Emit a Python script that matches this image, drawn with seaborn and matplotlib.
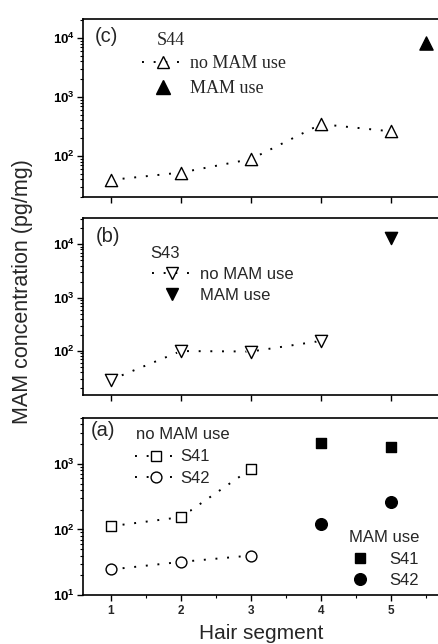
import numpy as np
import pandas as pd
import matplotlib
matplotlib.use("Agg")
import matplotlib.pyplot as plt
import seaborn as sns
from matplotlib.lines import Line2D
from matplotlib.ticker import LogLocator, FixedLocator, FuncFormatter, NullFormatter, MultipleLocator

# ---------------- data ----------------
segments = [1, 2, 3, 4, 5]
tick_labels = ["1", "2", "3", "4", "5"]

# (c) S44
s44_no_x = [1, 2, 3, 4, 5]
s44_no = [39, 52, 88, 345, 260]
s44_use_x = [5.5]
s44_use = [8300]

# (b) S43
s43_no_x = [1, 2, 3, 4]
s43_no = [29, 100, 98, 155]
s43_use_x = [5]
s43_use = [13000]

# (a) S41 / S42
s41_no_x = [1, 2, 3]
s41_no = [112, 154, 840]
s42_no_x = [1, 2, 3]
s42_no = [24.5, 32, 40]
s41_use_x = [4, 5]
s41_use = [2100, 1800]
s42_use_x = [4, 5]
s42_use = [122, 260]

# ---------------- style ----------------
sns.set_style("ticks")
plt.rcParams["font.family"] = ["Liberation Sans", "DejaVu Sans"]
plt.rcParams["mathtext.fontset"] = "custom"
plt.rcParams["mathtext.rm"] = "Liberation Sans"
plt.rcParams["mathtext.bf"] = "Liberation Sans:bold"
plt.rcParams["mathtext.it"] = "Liberation Sans:italic"

DOT = (0, (1, 5))
LW = 1.4

fig = plt.figure(figsize=(4.38, 6.44), dpi=100)
L = 83 / 438
W = 1 - L
ax_c = fig.add_axes([L, 0.6941, W, 0.2764])
ax_b = fig.add_axes([L, 0.3866, W, 0.2748])
ax_a = fig.add_axes([L, 0.0761, W, 0.2748])


def fmt(v, p):
    return r"$\mathbf{10^{%d}}$" % int(round(np.log10(v)))


def style(ax, ylim, labels):
    ax.set_yscale("log")
    ax.set_xlim(0.6, 5.67)
    ax.set_ylim(*ylim)
    ax.spines["right"].set_visible(False)
    for s in ["left", "top", "bottom"]:
        ax.spines[s].set_linewidth(1.2)
        ax.spines[s].set_color("black")
    ax.yaxis.set_major_locator(LogLocator(base=10, numticks=10))
    ax.yaxis.set_minor_locator(LogLocator(base=10, subs=np.arange(2, 10), numticks=10))
    ax.yaxis.set_major_formatter(FuncFormatter(fmt))
    ax.yaxis.set_minor_formatter(NullFormatter())
    ax.xaxis.set_major_locator(FixedLocator(segments))
    ax.tick_params(which="major", direction="out", length=4, width=1.0, color="black")
    ax.tick_params(which="minor", direction="out", length=2.3, width=0.8, color="black")
    ax.tick_params(axis="y", labelsize=9.5, pad=2, labelcolor="black")
    ax.tick_params(axis="y", which="minor", left=True)
    ax.tick_params(axis="x", labelbottom=labels, pad=3)
    ax.set_xlabel("")
    ax.set_ylabel("")
    ax.set_facecolor("white")


def dotted(ax, x, y):
    df = pd.DataFrame({"seg": x, "conc": y})
    sns.lineplot(data=df, x="seg", y="conc", ax=ax, color="black", lw=LW,
                 linestyle=DOT, zorder=2)


def pts(ax, x, y, marker, ms, filled, halo=True):
    df = pd.DataFrame({"seg": x, "conc": y})
    if halo and not filled:
        sns.scatterplot(data=df, x="seg", y="conc", ax=ax, marker=marker,
                        s=(ms + 5) ** 2, color="white", edgecolor="none",
                        linewidth=0, zorder=3)
    sns.scatterplot(data=df, x="seg", y="conc", ax=ax, marker=marker, s=ms ** 2,
                    color="black" if filled else "white", edgecolor="black",
                    linewidth=1.0, zorder=4)


# ---------------- panel (c) ----------------
dotted(ax_c, s44_no_x, s44_no)
pts(ax_c, s44_no_x, s44_no, "^", 8.8, False)
pts(ax_c, s44_use_x, s44_use, "^", 9.5, True)
style(ax_c, (20, 21000), False)
ax_c.text(0.034, 0.90, "(c)", transform=ax_c.transAxes, fontsize=14.5,
          va="center", ha="left")
ax_c.text(0.208, 0.854, "S44", transform=ax_c.transAxes, fontsize=13,
          family="Liberation Serif", va="baseline", ha="left")
h1 = Line2D([], [], color="black", lw=LW, linestyle=DOT, marker="^", ms=8.8,
            mfc="white", mec="black", mew=1.0)
h2 = Line2D([], [], linestyle="none", marker="^", ms=9.5, color="black")
ax_c.legend([h1, h2], ["no MAM use", "MAM use"], loc="center left",
            bbox_to_anchor=(0.166, 0.678), frameon=False, borderpad=0,
            borderaxespad=0, handlelength=2.3, handletextpad=0.39,
            labelspacing=0.45, numpoints=1,
            prop={"family": "Liberation Serif", "size": 13})

# ---------------- panel (b) ----------------
dotted(ax_b, s43_no_x, s43_no)
pts(ax_b, s43_no_x, s43_no, "v", 8.8, False)
pts(ax_b, s43_use_x, s43_use, "v", 8.8, True)
style(ax_b, (15, 31000), False)
ax_b.text(0.0366, 0.894, "(b)", transform=ax_b.transAxes, fontsize=14.5,
          va="center", ha="left")
ax_b.text(0.189, 0.776, "S43", transform=ax_b.transAxes, fontsize=12,
          va="baseline", ha="left")
h1 = Line2D([], [], color="black", lw=LW, linestyle=DOT, marker="v", ms=8.8,
            mfc="white", mec="black", mew=1.0)
h2 = Line2D([], [], linestyle="none", marker="v", ms=8.8, color="black")
ax_b.legend([h1, h2], ["no MAM use", "MAM use"], loc="center left",
            bbox_to_anchor=(0.194, 0.622), frameon=False, borderpad=0,
            borderaxespad=0, handlelength=2.4, handletextpad=0.5,
            labelspacing=0.38, numpoints=1, prop={"size": 12})

# ---------------- panel (a) ----------------
dotted(ax_a, s41_no_x, s41_no)
dotted(ax_a, s42_no_x, s42_no)
pts(ax_a, s41_no_x, s41_no, "s", 7.4, False)
pts(ax_a, s42_no_x, s42_no, "o", 7.8, False)
pts(ax_a, s41_use_x, s41_use, "s", 7.4, True)
pts(ax_a, s42_use_x, s42_use, "o", 8.4, True)
style(ax_a, (10, 5000), True)
ax_a.xaxis.set_minor_locator(MultipleLocator(0.5))
ax_a.set_xticks(segments)
ax_a.set_xticklabels(tick_labels, fontsize=8.5, fontweight="bold")
ax_a.text(0.0217, 0.932, "(a)", transform=ax_a.transAxes, fontsize=14.5,
          va="center", ha="left")
ax_a.text(0.149, 0.880, "no MAM use", transform=ax_a.transAxes, fontsize=12,
          va="baseline", ha="left")
ax_a.text(0.749, 0.301, "MAM use", transform=ax_a.transAxes, fontsize=12,
          va="baseline", ha="left")
hs = Line2D([], [], color="black", lw=LW, linestyle=DOT, marker="s", ms=7.4,
            mfc="white", mec="black", mew=1.0)
hc = Line2D([], [], color="black", lw=LW, linestyle=DOT, marker="o", ms=7.8,
            mfc="white", mec="black", mew=1.0)
leg1 = ax_a.legend([hs, hc], ["S41", "S42"], loc="center left",
                   bbox_to_anchor=(0.146, 0.720), frameon=False, borderpad=0,
                   borderaxespad=0, handlelength=2.5, handletextpad=0.2,
                   labelspacing=0.38, numpoints=1, prop={"size": 12})
ax_a.add_artist(leg1)
fs = Line2D([], [], linestyle="none", marker="s", ms=7.4, color="black")
fc = Line2D([], [], linestyle="none", marker="o", ms=8.4, color="black")
ax_a.legend([fs, fc], ["S41", "S42"], loc="center left",
            bbox_to_anchor=(0.721, 0.142), frameon=False, borderpad=0,
            borderaxespad=0, handlelength=2.5, handletextpad=0.49,
            labelspacing=0.38, numpoints=1, prop={"size": 12})

# ---------------- axis titles ----------------
fig.text(0.0525, 0.5466, "MAM concentration (pg/mg)", rotation=90,
         fontsize=15.5, ha="center", va="center")
fig.text(0.597, 0.0078, "Hair segment", fontsize=15, ha="center", va="baseline")

fig.savefig("out.png", dpi=100, facecolor="white")
